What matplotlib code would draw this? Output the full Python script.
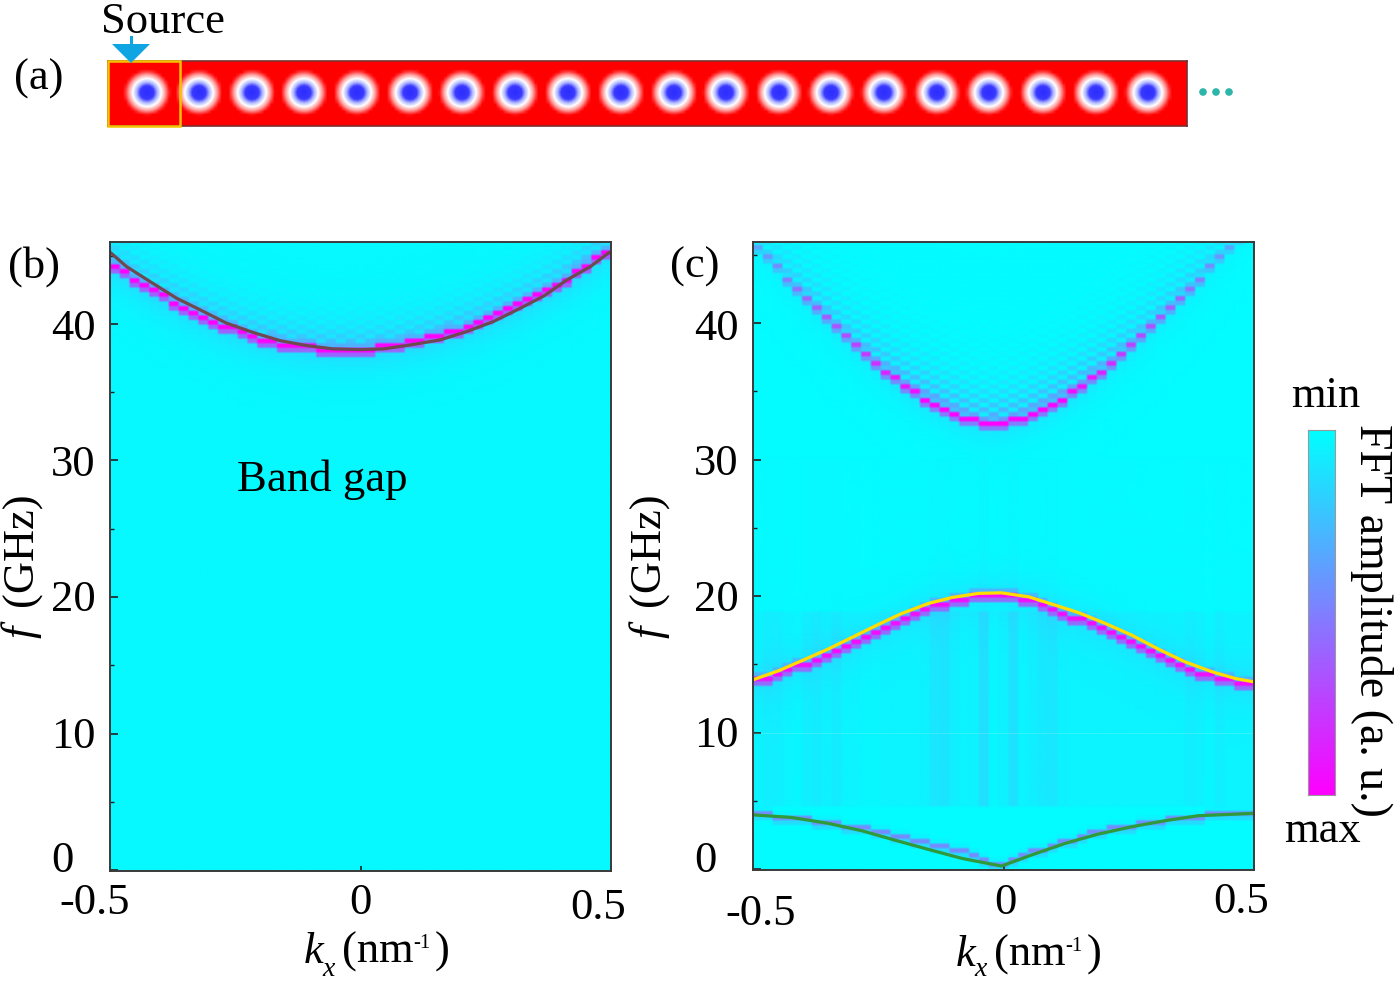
import numpy as np
import matplotlib
matplotlib.use("Agg")
import matplotlib.pyplot as plt
from matplotlib.colors import LinearSegmentedColormap
from matplotlib.patches import Rectangle, Polygon, Circle
from matplotlib.transforms import ScaledTranslation

plt.rcParams['font.family'] = ['Liberation Serif', 'DejaVu Serif']
W, H = 1396, 983
FS = 32

# ---- data ----
dot_x = [147, 199, 252, 304, 357, 410, 462, 515, 568, 621, 674, 726, 779, 831, 884, 937, 989, 1043, 1096, 1148]
teal_x = [1203, 1216, 1229]

band_b = [44.27, 43.76, 43.27, 42.81, 42.37, 42.0, 41.64, 41.27, 40.9, 40.59, 40.22, 39.93, 39.63, 39.37, 39.14,
          38.93, 38.75, 38.58, 38.46, 38.34, 38.27, 38.22, 38.17, 38.14, 38.14,
          38.14, 38.19, 38.27, 38.34, 38.46, 38.61, 38.75, 38.95, 39.14, 39.37, 39.61, 39.85, 40.1, 40.37, 40.71,
          41.0, 41.34, 41.7, 42.07, 42.44, 42.85, 43.29, 43.78, 44.27, 44.81, 45.37]
line_b_k = [-0.5, -0.467, -0.42, -0.367, -0.32, -0.267, -0.214, -0.161, -0.107, -0.054, -0.001, 0.046, 0.099,
            0.159, 0.212, 0.265, 0.319, 0.366, 0.412, 0.459, 0.497]
line_b_f = [45.25, 44.2, 43.1, 41.88, 41.03, 40.05, 39.37, 38.78, 38.41, 38.17, 38.12, 38.17, 38.46,
            38.83, 39.44, 40.17, 41.15, 42.05, 43.22, 44.2, 45.25]

band_c_upper = [45.64, 44.88, 44.08, 43.35, 42.61, 41.86, 41.1, 40.39, 39.66, 38.97, 38.31, 37.7, 37.07, 36.48, 35.9,
                35.36, 34.9, 34.46, 34.07, 33.72, 33.36, 33.06, 32.82, 32.65, 32.6,
                32.7, 32.87, 33.06, 33.38, 33.7, 34.07, 34.46, 34.9, 35.38, 35.92, 36.48, 37.07, 37.7, 38.31, 38.97,
                39.66, 40.39, 41.1, 41.86, 42.61, 43.35, 44.08, 44.86, 45.64, 46.4, 47.1]
amp_c_upper = [.35, .4, .45, .5, .55, .6, .62, .65, .68, .7, .74, .78, .82, .86, .9, .92, .95, 1, 1, 1, 1, 1, 1, 1, 1,
               1, 1, 1, 1, 1, 1, 1, .95, .92, .9, .86, .82, .78, .74, .7, .68, .65, .62, .6, .55, .5, .45, .4, .35, .3, .3]
band_c_lower = [13.8, 14.05, 14.3, 14.55, 14.8, 15.05, 15.4, 15.7, 16.05, 16.4, 16.75, 17.1, 17.45, 17.8, 18.15,
                18.5, 18.8, 19.05, 19.3, 19.5, 19.65, 19.85, 20.0, 20.1, 20.15,
                20.2, 20.05, 19.85, 19.65, 19.35, 19.05, 18.8, 18.5, 18.25, 18.0, 17.75, 17.45, 17.1, 16.75, 16.4,
                16.0, 15.65, 15.35, 15.0, 14.7, 14.4, 14.2, 14.0, 13.85, 13.75, 13.65]
band_c_acoustic = [4.0, 3.95, 3.88, 3.8, 3.72, 3.62, 3.52, 3.42, 3.3, 3.18, 3.05, 2.92, 2.78, 2.62, 2.47, 2.3, 2.14,
                   1.98, 1.8, 1.62, 1.42, 1.22, 1.0, 0.75, 0.5, 0.25,
                   0.6, 0.92, 1.22, 1.5, 1.75, 1.98, 2.2, 2.4, 2.58, 2.75, 2.9, 3.05, 3.2, 3.33, 3.45, 3.56, 3.66,
                   3.75, 3.82, 3.88, 3.94, 3.98, 4.02, 4.05, 4.08]
tint_c = [.03, .05, .05, .03, .02, .05, .06, .04, .06, .03, .03, .02, .02, .03, .03, .03, .03, .04, .08, .09, .05, .03,
          .04, .11, .02, .04, .10, .03, .05, .07, .08, .04, .03, .03, .03, .03, .03, .03, .03, .03, .03, .03, .03, .03,
          .05, .04, .02, .05, .03, .03, .03]
line_y_k = [-0.496, -0.449, -0.403, -0.35, -0.296, -0.25, -0.203, -0.15, -0.103, -0.05, -0.004, 0.05, 0.103, 0.149,
            0.203, 0.256, 0.309, 0.362, 0.416, 0.462, 0.499]
line_y_f = [13.92, 14.53, 15.26, 16.12, 17.09, 17.92, 18.73, 19.46, 19.9, 20.2, 20.24, 19.95, 19.34, 18.8, 18.0,
            17.14, 16.12, 15.19, 14.46, 13.97, 13.72]
line_g_k = [-0.496, -0.423, -0.35, -0.283, -0.217, -0.15, -0.083, -0.004, 0.056, 0.123, 0.189, 0.256, 0.322, 0.389, 0.499]
line_g_f = [3.96, 3.78, 3.35, 2.81, 2.12, 1.44, 0.78, 0.22, 1.03, 1.88, 2.56, 3.1, 3.54, 3.91, 4.08]

y_major = [0, 10, 20, 30, 40]
y_minor = [5, 15, 25, 35, 45]
x_ticks = [-0.5, 0, 0.5]
x_labels = ['-0.5', '0', '0.5']
y_labels = ['0', '10', '20', '30', '40']

# ---- helpers ----
fig = plt.figure(figsize=(W / 100, H / 100), dpi=100, facecolor='white')


def add_ax(x0, y0, x1, y1):
    return fig.add_axes([x0 / W, 1 - y1 / H, (x1 - x0) / W, (y1 - y0) / H])


def T(x, y, s, size=FS, **kw):
    kw.setdefault('ha', 'left')
    kw.setdefault('va', 'baseline')
    return fig.text(x / W, 1 - y / H, s, fontsize=size, color='black', **kw)


cmap = LinearSegmentedColormap.from_list('fft', ['#00ffff', '#ff00ff'])
ncol = 51
col_k = -0.5 + (np.arange(ncol) + 0.5) / ncol
row_f = np.arange(0.0, 47.0, 0.34)


def add_band(Z, band, amp, ripple=0.0, tau=3.0, halo=0.12, below=0.5, above=0.25):
    band = np.asarray(band, float)
    amp = np.full(ncol, amp, float) if np.isscalar(amp) else np.asarray(amp, float)
    for i in range(ncol):
        j = int(np.argmin(np.abs(row_f - band[i])))
        d = row_f - band[i]
        Z[:, i] += halo * amp[i] * np.exp(-np.abs(d) / 1.2)
        if ripple:
            up = d > 0.2
            chk = ((np.arange(len(row_f)) + i) % 2 == 0)
            Z[up & chk, i] += ripple * amp[i] * np.exp(-d[up & chk] / tau)
        Z[max(j - 1, 0), i] = max(Z[max(j - 1, 0), i], below * amp[i])
        if j + 1 < len(row_f):
            Z[j + 1, i] = max(Z[j + 1, i], above * amp[i])
        Z[j, i] = amp[i]
    return Z


def show_map(ax, Z):
    up = np.repeat(np.repeat(Z, 2, axis=0), 4, axis=1)
    ax.imshow(np.clip(up, 0, 1), origin='lower', aspect='auto', cmap=cmap, vmin=0, vmax=1,
              extent=[-0.5, 0.5, row_f[0] - 0.17, row_f[-1] + 0.17], interpolation='bilinear')


def style(ax, ylim, offs):
    ax.set_xlim(-0.5, 0.5)
    ax.set_ylim(*ylim)
    ax.set_yticks(y_major)
    ax.set_yticklabels(y_labels, fontsize=FS)
    ax.set_yticks(y_minor, minor=True)
    ax.set_xticks(x_ticks)
    ax.set_xticklabels(x_labels, fontsize=FS)
    ax.tick_params(axis='y', which='major', direction='in', length=5.8, width=1.2, pad=10.5, color='#222222')
    ax.tick_params(axis='y', which='minor', direction='in', length=2.9, width=1.0, color='#222222')
    ax.tick_params(axis='x', which='major', direction='in', length=3.5, width=1.2, pad=10.5, color='#222222')
    for s in ax.spines.values():
        s.set_linewidth(1.4)
        s.set_color('#3a3a3a')
    for lab, (dx, dy) in zip(list(ax.get_xticklabels()) + list(ax.get_yticklabels()), offs):
        lab.set_transform(lab.get_transform() + ScaledTranslation(dx / 100, -dy / 100, fig.dpi_scale_trans))


# ---- panel (a) ----
ax_a = add_ax(108, 61, 1187, 126)
cmap_a = LinearSegmentedColormap.from_list('a', [(0, '#2a2aff'), (0.30, '#3a3aff'), (0.46, '#b0b8ff'), (0.62, '#ffffff'),
                                                  (0.80, '#ff9a9a'), (1, '#ff0000')])
xs = np.arange(108 + 1.6, 1187, 3.3)
ys = np.arange(61 + 1.6, 126, 3.3)
XX, YY = np.meshgrid(xs, ys)
R = np.full(XX.shape, 1e3)
for d in dot_x:
    R = np.minimum(R, np.hypot(XX - d, YY - 93))
ax_a.imshow(np.clip(R / 23, 0, 1), cmap=cmap_a, vmin=0, vmax=1, aspect='auto',
            extent=[108, 1187, 126, 61], interpolation='bilinear')
ax_a.set_xticks([])
ax_a.set_yticks([])
for s in ax_a.spines.values():
    s.set_linewidth(1.2)
    s.set_color('#7a3030')

over = fig.add_axes([0, 0, 1, 1], facecolor='none', zorder=5)
over.set_xlim(0, W)
over.set_ylim(H, 0)
over.axis('off')
over.add_patch(Rectangle((108, 61), 72, 65, fill=False, ec='#f5c400', lw=1.8))
over.add_patch(Polygon([(112, 44), (150, 44), (131, 63)], closed=True, fc='#0ea5e2', ec='none'))
over.add_patch(Rectangle((129.5, 36), 3, 9, fc='#0ea5e2', ec='none'))
for x in teal_x:
    over.add_patch(Circle((x, 92), 3.8, fc='#2cb5a8', ec='none'))

# ---- panel (b) ----
ax_b = add_ax(110, 242, 611, 871)
Zb = np.full((len(row_f), ncol), 0.025)
Zb = add_band(Zb, band_b, 1.0, ripple=0.2, tau=1.3, halo=0.16, below=0.6, above=0.3)
show_map(ax_b, Zb)
ax_b.plot(line_b_k, line_b_f, color='#6e4a50', lw=2.3, solid_capstyle='round')
style(ax_b, (-0.07, 46.0), [(-15, -3), (0, -3), (-13, 2), (-22, -14), (0, -1), (0, -1), (0, 0), (0, 1)])

# ---- panel (c) ----
ax_c = add_ax(753, 242, 1254, 870)
Zc = np.full((len(row_f), ncol), 0.015)
stripe = (row_f > 4.5) & (row_f < 19.0)
for i in range(ncol):
    Zc[stripe, i] += tint_c[i]
    Zc[(row_f >= 19.0) & (row_f < 30), i] += 0.15 * tint_c[i]
Zc = add_band(Zc, band_c_upper, amp_c_upper, ripple=0.36, tau=1.9, halo=0.12)
Zc = add_band(Zc, band_c_lower, 0.95, halo=0.1, below=0.6, above=0.3)
Zc = add_band(Zc, band_c_acoustic, 0.45, halo=0.0, below=0.3, above=0.1)
show_map(ax_c, Zc)
ax_c.axhline(10, color='white', lw=0.6, alpha=0.18)
ax_c.plot(line_y_k, line_y_f, color='#ffdd00', lw=2.3)
ax_c.plot(line_g_k, line_g_f, color='#2e9a3a', lw=2.3)
style(ax_c, (-0.07, 45.95), [(8, 9), (2, -2), (-13, -3), (-22, -13), (0, -1), (0, -1), (0, 0), (0, 1)])

# ---- colour bar ----
cax = add_ax(1308, 430, 1335, 795)
cb_vals = np.linspace(0, 1, 256)[:, None]
cax.imshow(cb_vals, aspect='auto', cmap=cmap, vmin=0, vmax=1, extent=[0, 1, 1, 0])
cax.set_xticks([])
cax.set_yticks([])
for s in cax.spines.values():
    s.set_linewidth(0.8)
    s.set_color('#999999')

# ---- texts ----
T(101, 33, 'Source')
T(14, 90, '(a)')
T(8, 278, '(b)')
T(670, 278, '(c)')
T(237, 491, 'Band gap', size=32.3)
T(1291, 407, 'min')
T(1284, 842, 'max')
T(1371, 424, 'FFT amplitude (a. u.)', size=33, rotation=-90, ha='center', va='top', rotation_mode='default')

for x0 in (33, 660):
    T(x0, 638, 'f', rotation=90, style='italic', rotation_mode='anchor')
    T(x0, 606, '(GHz)', rotation=90, rotation_mode='anchor')

for dx, dy, dsub in ((0, 0, 0), (652, 3, 0)):
    T(304 + dx, 963 + dy, 'k', style='italic')
    T(322 + dx, 976 + dsub, 'x', size=20, style='italic')
    T(342 + dx, 963 + dy, '(nm')
    T(413 + dx, 948 + dy, '-1', size=15)
    T(435 + dx, 963 + dy, ')')

fig.savefig('out.png', dpi=100, facecolor='white')
